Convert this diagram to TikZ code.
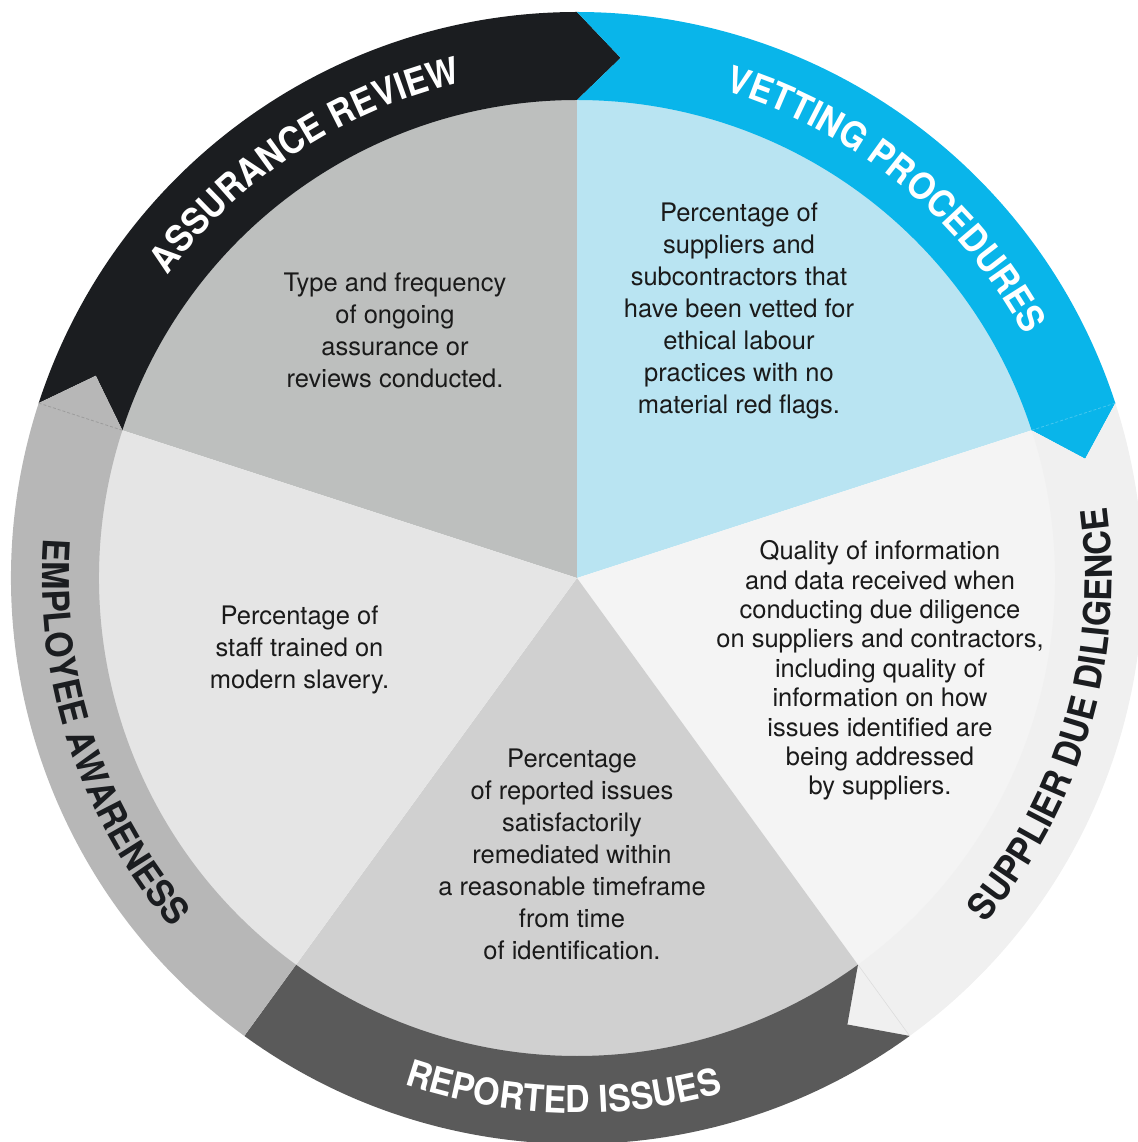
\documentclass[tikz,border=0pt]{standalone}
\usepackage{fontspec}
\setmainfont{TeX Gyre Heros}
\newfontfamily\lblfam{TeX Gyre Heros}[FakeStretch=0.92]
\usetikzlibrary{decorations.text}
\definecolor{ringblack}{RGB}{27,29,32}
\definecolor{ringcyan}{RGB}{9,181,234}
\definecolor{ringlight}{RGB}{240,240,240}
\definecolor{ringdark}{RGB}{90,90,90}
\definecolor{ringmid}{RGB}{183,183,183}
\definecolor{secassur}{RGB}{189,191,190}
\definecolor{secvet}{RGB}{185,228,242}
\definecolor{secsupp}{RGB}{244,244,244}
\definecolor{secrep}{RGB}{208,208,208}
\definecolor{secemp}{RGB}{229,229,229}
\definecolor{bodyink}{RGB}{26,26,26}
\newcommand\lblfont{\lblfam\bfseries\fontsize{37}{37}\selectfont}
\tikzset{
  body/.style={align=center, inner sep=0pt, text=bodyink, font=\fontsize{25.5}{32}\selectfont},
  bodytight/.style={body, font=\fontsize{25.5}{29.4}\selectfont},
  seam/.style={line width=0.8pt, dash pattern=on 3pt off 2pt},
}
\begin{document}
\begin{tikzpicture}[x=1pt,y=1pt]
\useasboundingbox (-577,-564) rectangle (560,578);
% inner sectors
\fill[secassur] (0,0) -- (162:481) arc[start angle=162,end angle=90,radius=481] -- cycle;
\fill[secvet] (0,0) -- (90:481) arc[start angle=90,end angle=18,radius=481] -- cycle;
\fill[secsupp] (0,0) -- (18:481) arc[start angle=18,end angle=-54,radius=481] -- cycle;
\fill[secrep] (0,0) -- (-54:481) arc[start angle=-54,end angle=-126,radius=481] -- cycle;
\fill[secemp] (0,0) -- (-126:481) arc[start angle=-126,end angle=-198,radius=481] -- cycle;
% outer ring pieces
\fill[ringblack] (162:566) arc[start angle=162,end angle=90,radius=566] -- (85.2:522) -- (90:478)
  arc[start angle=90,end angle=162,radius=478] -- (157.2:522) -- cycle;
\fill[ringcyan] (90:566) arc[start angle=90,end angle=18,radius=566] -- (13.2:522) -- (18:478)
  arc[start angle=18,end angle=90,radius=478] -- (85.2:522) -- cycle;
\fill[ringlight] (18:566) arc[start angle=18,end angle=-54,radius=566] -- (-58.8:522) -- (-54:478)
  arc[start angle=-54,end angle=18,radius=478] -- (13.2:522) -- cycle;
\fill[ringdark] (-54:566) arc[start angle=-54,end angle=-126,radius=566] -- (-126:478)
  arc[start angle=-126,end angle=-54,radius=478] -- (-58.8:522) -- cycle;
\fill[ringmid] (234:566) arc[start angle=234,end angle=162,radius=566] -- (157.2:522) -- (162:478)
  arc[start angle=162,end angle=234,radius=478] -- cycle;
% faint seams
\draw[seam, ringcyan!75!white] (18:478) -- (18:566);
\draw[seam, ringmid!85!black] (162:478) -- (162:566);
\draw[line width=0.6pt, ringlight!92!black] (-54:478) -- (-54:566);
% ring labels
\path[decorate, decoration={text along path, text align=center, text color=white,
  text={|\lblfont|ASSURANCE REVIEW}}] (173.3:509) arc[start angle=173.3,end angle=73.3,radius=509];
\path[decorate, decoration={text along path, text align=center, text color=white,
  text={|\lblfont|VETTING PROCEDURES}}] (80.8:509) arc[start angle=80.8,end angle=20.8,radius=509];
\path[decorate, decoration={text along path, text align=center, text color=ringblack,
  text={|\lblfont|SUPPLIER DUE DILIGENCE}}] (-46.3:535) arc[start angle=-46.3,end angle=13.7,radius=535];
\path[decorate, decoration={text along path, text align=center, text color=white,
  text={|\lblfont|REPORTED ISSUES}}] (-121.5:535) arc[start angle=-121.5,end angle=-61.5,radius=535];
\path[decorate, decoration={text along path, text align=center, text color=ringblack,
  text={|\lblfont|EMPLOYEE AWARENESS}}] (168.3:535) arc[start angle=168.3,end angle=228.3,radius=535];
% body texts
\node[body] (tassur) at (-182,248) {Type and frequency\\of ongoing\\assurance or\\reviews conducted.};
\node[body] (tvet) at (162,267) {Percentage of\\suppliers and\\subcontractors that\\have been vetted for\\ethical labour\\practices with no\\material red flags.};
\node[bodytight] (tsupp) at (303,-92.5) {Quality of information\\and data received when\\conducting due diligence\\on suppliers and contractors,\\including quality of\\information on how\\issues identified are\\being addressed\\by suppliers.};
\node[body] (temp) at (-277.5,-72) {Percentage of\\staff trained on\\modern slavery.};
\node[body] (trep) at (-5,-276) {Percentage\\of reported issues\\satisfactorily\\remediated within\\a reasonable timeframe\\from time\\of identification.};
\end{tikzpicture}
\end{document}
